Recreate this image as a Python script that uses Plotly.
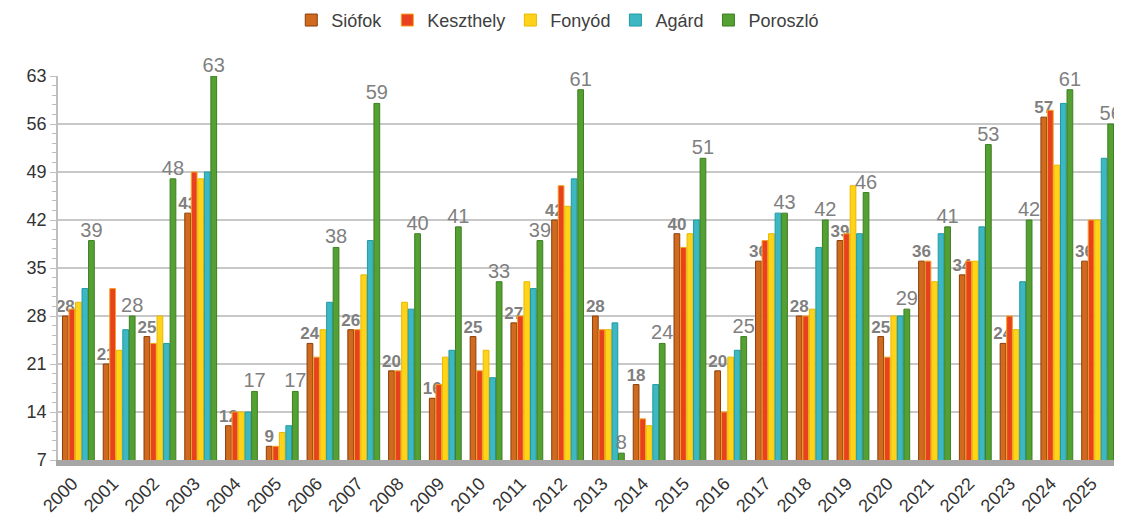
import plotly.graph_objects as go

years = [str(y) for y in range(2000, 2026)]
siofok    = [28, 21, 25, 43, 12, 9, 24, 26, 20, 16, 25, 27, 42, 28, 18, 40, 20, 36, 28, 39, 25, 36, 34, 24, 57, 36]
keszthely = [29, 32, 24, 49, 14, 9, 22, 26, 20, 18, 20, 28, 47, 26, 13, 38, 14, 39, 28, 40, 22, 36, 36, 28, 58, 42]
fonyod    = [30, 23, 28, 48, 14, 11, 26, 34, 30, 22, 23, 33, 44, 26, 12, 40, 22, 40, 29, 47, 28, 33, 36, 26, 50, 42]
agard     = [32, 26, 24, 49, 14, 12, 30, 39, 29, 23, 19, 32, 48, 27, 18, 42, 23, 43, 38, 40, 28, 40, 41, 33, 59, 51]
poroszlo  = [39, 28, 48, 63, 17, 17, 38, 59, 40, 41, 33, 39, 61, 8, 24, 51, 25, 43, 42, 46, 29, 41, 53, 42, 61, 56]

y_ticks = [7, 14, 21, 28, 35, 42, 49, 56, 63]

series = [
    ("Siófok", siofok, "#CF6A1E", "#8A3F0C"),
    ("Keszthely", keszthely, "#E8411F", "#F5A21E"),
    ("Fonyód", fonyod, "#FFD319", "#E8B800"),
    ("Agárd", agard, "#3DB8C2", "#1F9AA5"),
    ("Poroszló", poroszlo, "#55A032", "#3C7F22"),
]

fig = go.Figure()
for name, vals, col, lcol in series:
    kw = {}
    if name == "Siófok":
        kw = dict(text=[str(v) for v in vals], textposition="outside",
                  textfont=dict(size=17, color="#7F7F7F", family="Liberation Sans", weight="bold"))
    elif name == "Poroszló":
        kw = dict(text=[str(v) for v in vals], textposition="outside",
                  textfont=dict(size=20, color="#7F7F7F", family="Liberation Sans"))
    fig.add_trace(go.Bar(
        name=name, x=years, y=vals,
        marker=dict(color=col, line=dict(color=lcol, width=1)),
        cliponaxis=False, constraintext="none", **kw))

fig.update_layout(
    width=1122, height=514,
    barmode="group", bargap=0.2, bargroupgap=0.12,
    paper_bgcolor="white", plot_bgcolor="white",
    font=dict(family="Liberation Sans, Arial, sans-serif", color="#404040", size=18),
    margin=dict(l=50, r=12, t=68, b=62, autoexpand=False),
    legend=dict(orientation="h", xref="container", yref="container",
                x=0.49, xanchor="center", y=0.976, yanchor="middle",
                font=dict(size=18, color="#404040"), itemwidth=30,
                traceorder="normal"),
    showlegend=True,
)
fig.update_yaxes(
    range=[7, 63], tickvals=y_ticks, showgrid=True, gridcolor="#C8C8C8", gridwidth=1.5,
    showline=True, linecolor="#BFBFBF", linewidth=1.5, mirror=True,
    ticks="outside", ticklen=6, tickcolor="#BFBFBF",
    minor=dict(dtick=1.4, tick0=7, ticks="outside", ticklen=4, tickcolor="#BFBFBF", showgrid=False),
    tickfont=dict(size=18, color="#333333"), zeroline=False, automargin=False,
)
fig.update_xaxes(
    tickangle=-45, tickfont=dict(size=18, color="#333333"),
    showline=True, linecolor="#A6A6A6", linewidth=6, ticks="",
    automargin=False, ticklabelshift=-6, ticklabelstandoff=0,
)

fig.write_html("out.html")
